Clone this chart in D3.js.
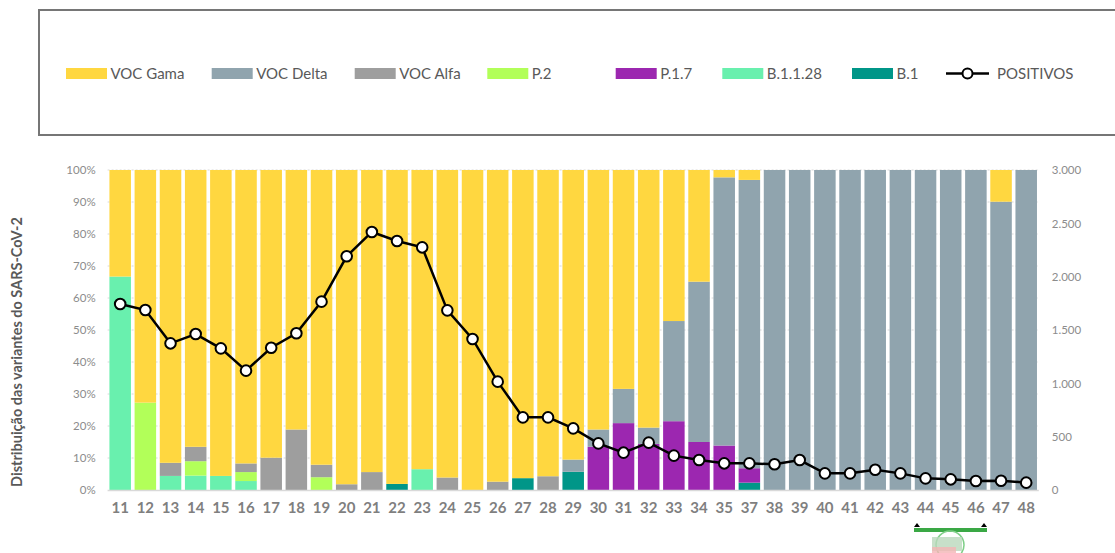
<!DOCTYPE html>
<html>
<head>
<meta charset="utf-8">
<script src="https://cdn.jsdelivr.net/npm/d3@7"></script>
<style>
  body { margin: 0; background: #fff; }
  svg { display: block; font-family: "Lato", "Open Sans", sans-serif; }
</style>
</head>
<body>
<svg class="chart" width="1115" height="553"></svg>
<script>
// semanas epidemiologicas (a 36 nao aparece)
const weeks = ["11","12","13","14","15","16","17","18","19","20","21","22","23","24","25","26","27","28","29","30","31","32","33","34","35","37","38","39","40","41","42","43","44","45","46","47","48"];

// percentagens por variante
const b1    = [0,0,0,0,0,0,0,0,0,0,0,1.9,0,0,0,0,3.7,0,5.7,0,0,0,0,0,0,2.3,0,0,0,0,0,0,0,0,0,0,0];
const b1128 = [66.7,0,4.4,4.5,4.4,2.8,0,0,0,0,0,0,6.5,0,0,0,0,0,0,0,0,0,0,0,0,0,0,0,0,0,0,0,0,0,0,0,0];
const p17   = [0,0,0,0,0,0,0,0,0,0,0,0,0,0,0,0,0,0,0,13.5,20.9,14.4,21.5,15.0,13.9,4.5,0,0,0,0,0,0,0,0,0,0,0];
const p2    = [0,27.3,0,4.5,0,2.8,0,0,4.0,0,0,0,0,0,0,0,0,0,0,0,0,0,0,0,0,0,0,0,0,0,0,0,0,0,0,0,0];
const alfa  = [0,0,4.1,4.5,0,2.7,10.1,18.9,3.9,1.8,5.6,0,0,3.9,0,2.6,0,4.3,0,0,0,0,0,0,0,0,0,0,0,0,0,0,0,0,0,0,0];
const delta = [0,0,0,0,0,0,0,0,0,0,0,0,0,0,0,0,0,0,3.8,5.4,10.7,5.1,31.3,50.1,83.8,90.1,100,100,100,100,100,100,100,100,100,90.1,100];
const gama  = [33.3,72.7,91.5,86.5,95.6,91.7,89.9,81.1,92.1,98.2,94.4,98.1,93.5,96.1,100,97.4,96.3,95.7,90.5,81.1,68.4,80.5,47.2,34.9,2.3,3.1,0,0,0,0,0,0,0,0,0,9.9,0];

// casos positivos
const positivos = [1744,1687,1375,1462,1328,1119,1334,1469,1766,2191,2419,2334,2275,1684,1416,1016,681,681,578,437,350,444,322,281,250,250,241,281,156,156,190,156,109,100,84,87,69];

const pctTicks = [0,10,20,30,40,50,60,70,80,90,100];
const posTicks = [0,500,1000,1500,2000,2500,3000];

// ordem de empilhamento (de baixo para cima)
const series = [
  { key: "b1",    name: "B.1",       color: "#009688", values: b1 },
  { key: "b1128", name: "B.1.1.28",  color: "#69F0AE", values: b1128 },
  { key: "p17",   name: "P.1.7",     color: "#9C27B0", values: p17 },
  { key: "p2",    name: "P.2",       color: "#B2FF59", values: p2 },
  { key: "alfa",  name: "VOC Alfa",  color: "#9E9E9E", values: alfa },
  { key: "delta", name: "VOC Delta", color: "#90A4AE", values: delta },
  { key: "gama",  name: "VOC Gama",  color: "#FFD740", values: gama }
];

const rows = weeks.map((w, i) => {
  const r = { week: w };
  series.forEach(s => { r[s.key] = s.values[i]; });
  return r;
});

const svg = d3.select(".chart");
const plotTop = 170, plotBottom = 490, plotLeft = 107.6, plotRight = 1038.8;

const xScale = d3.scaleBand().domain(weeks).range([plotLeft, plotRight]).paddingInner(0.145).paddingOuter(0.0725);
const yScale = d3.scaleLinear().domain([0, 100]).range([plotBottom, plotTop]);
const y2Scale = d3.scaleLinear().domain([0, 3000]).range([plotBottom, plotTop]);

const ptLocale = d3.formatLocale({ decimal: ",", thousands: ".", grouping: [3], currency: ["", "€"] });

// legenda
svg.append("rect")
  .attr("x", 39).attr("y", 10)
  .attr("width", 1100).attr("height", 125)
  .attr("fill", "none").attr("stroke", "#767676").attr("stroke-width", 2);

const legendItems = [
  { name: "VOC Gama", color: "#FFD740", x: 66 },
  { name: "VOC Delta", color: "#90A4AE", x: 211.7 },
  { name: "VOC Alfa", color: "#9E9E9E", x: 354.7 },
  { name: "P.2", color: "#B2FF59", x: 487.3 },
  { name: "P.1.7", color: "#9C27B0", x: 615.7 },
  { name: "B.1.1.28", color: "#69F0AE", x: 722.3 },
  { name: "B.1", color: "#009688", x: 852 }
];
const lg = svg.append("g");
legendItems.forEach(d => {
  lg.append("rect").attr("x", d.x).attr("y", 68).attr("width", 41).attr("height", 11).attr("fill", d.color);
  lg.append("text").attr("x", d.x + 44.5).attr("y", 79)
    .attr("font-size", 15).attr("fill", "#595959").text(d.name);
});
lg.append("line").attr("x1", 946).attr("x2", 989).attr("y1", 73.5).attr("y2", 73.5)
  .attr("stroke", "#000").attr("stroke-width", 2.5);
lg.append("circle").attr("cx", 967.5).attr("cy", 73.5).attr("r", 5)
  .attr("fill", "#fff").attr("stroke", "#000").attr("stroke-width", 2);
lg.append("text").attr("x", 997).attr("y", 79)
  .attr("font-size", 15).attr("fill", "#595959").text("POSITIVOS");

// grelha
svg.append("g")
  .selectAll("line")
  .data(pctTicks.slice(1))
  .enter()
  .append("line")
  .attr("x1", plotLeft).attr("x2", plotRight)
  .attr("y1", d => yScale(d)).attr("y2", d => yScale(d))
  .attr("stroke", "#d9d9d9").attr("stroke-dasharray", "2,2");

// barras empilhadas
const stacked = d3.stack().keys(series.map(s => s.key))(rows);
svg.append("g")
  .selectAll("g")
  .data(stacked)
  .enter()
  .append("g")
  .attr("fill", (d, i) => series[i].color)
  .selectAll("rect")
  .data(d => d.filter(p => p[1] - p[0] > 0))
  .enter()
  .append("rect")
  .attr("x", d => xScale(d.data.week))
  .attr("y", d => yScale(d[1]))
  .attr("height", d => yScale(d[0]) - yScale(d[1]))
  .attr("width", xScale.bandwidth());

// eixo x
svg.append("line")
  .attr("x1", plotLeft).attr("x2", plotRight)
  .attr("y1", plotBottom + 0.5).attr("y2", plotBottom + 0.5)
  .attr("stroke", "#d9d9d9").attr("stroke-width", 1.5);

const xAxis = svg.append("g")
  .attr("transform", `translate(0, ${plotBottom})`)
  .call(d3.axisBottom(xScale).tickSize(0).tickPadding(12));
xAxis.select(".domain").remove();
xAxis.selectAll("text")
  .attr("font-family", "Lato, sans-serif")
  .attr("font-size", 15).attr("font-weight", "bold").attr("fill", "#7f7f7f");

// eixo esquerdo
const yAxis = svg.append("g")
  .attr("transform", `translate(${plotLeft - 12}, 0)`)
  .call(d3.axisLeft(yScale).tickValues(pctTicks).tickSize(0).tickPadding(0).tickFormat(d => d + "%"));
yAxis.select(".domain").remove();
yAxis.selectAll("text")
  .attr("font-family", "Lato, sans-serif")
  .attr("font-size", 11.5).attr("fill", "#8c8c8c");

// eixo direito
const y2Axis = svg.append("g")
  .attr("transform", `translate(${plotRight + 13}, 0)`)
  .call(d3.axisRight(y2Scale).tickValues(posTicks).tickSize(0).tickPadding(0).tickFormat(ptLocale.format(",")));
y2Axis.select(".domain").remove();
y2Axis.selectAll("text")
  .attr("font-family", "Lato, sans-serif")
  .attr("font-size", 11.5).attr("fill", "#8c8c8c");

// titulo do eixo
svg.append("text")
  .attr("transform", "translate(22, 352) rotate(-90)")
  .attr("text-anchor", "middle")
  .attr("font-size", 14.5).attr("font-weight", "bold").attr("fill", "#595959")
  .text("Distribuição das variantes do SARS-CoV-2");

// linha dos positivos
const line = d3.line()
  .x((d, i) => xScale(weeks[i]) + xScale.bandwidth() / 2)
  .y(d => y2Scale(d));

svg.append("path")
  .datum(positivos)
  .attr("d", line)
  .attr("fill", "none").attr("stroke", "#000").attr("stroke-width", 2.5);

svg.append("g")
  .selectAll("circle")
  .data(positivos)
  .enter()
  .append("circle")
  .attr("cx", (d, i) => xScale(weeks[i]) + xScale.bandwidth() / 2)
  .attr("cy", d => y2Scale(d))
  .attr("r", 5.3)
  .attr("fill", "#fff").attr("stroke", "#000").attr("stroke-width", 2);

// marca no rodape
const foot = svg.append("g");
foot.append("rect").attr("x", 914).attr("y", 528).attr("width", 73).attr("height", 4).attr("fill", "#3aa845");
foot.append("path").attr("d", "M914,527 l3,-4 l3,4 z").attr("fill", "#000");
foot.append("path").attr("d", "M981,527 l3,-4 l3,4 z").attr("fill", "#000");
foot.append("circle").attr("cx", 950).attr("cy", 545).attr("r", 14)
  .attr("fill", "none").attr("stroke", "#7fcf88").attr("stroke-width", 1.5);
foot.append("rect").attr("x", 932).attr("y", 537).attr("width", 30).attr("height", 14).attr("fill", "#b9d8bc").attr("opacity", 0.8);
foot.append("rect").attr("x", 932).attr("y", 547).attr("width", 24).attr("height", 6).attr("fill", "#f2b5b5").attr("opacity", 0.8);
</script>
</body>
</html>
